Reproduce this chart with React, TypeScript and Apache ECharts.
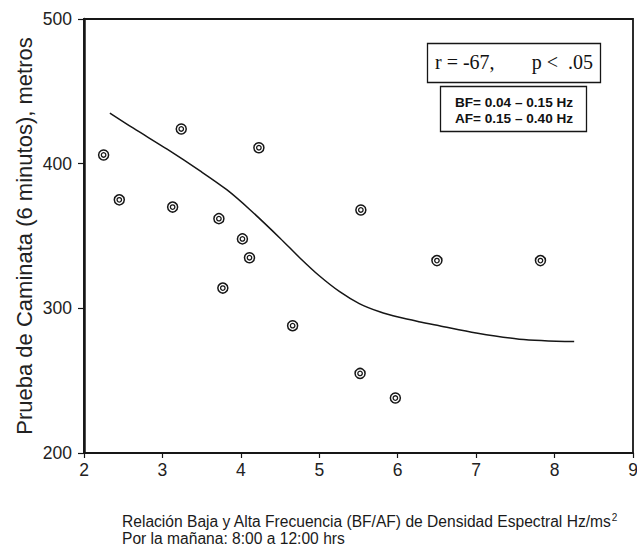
import React, { useEffect, useRef } from "react";
import * as echarts from "echarts";

const xTicks = [2, 3, 4, 5, 6, 7, 8, 9];
const yTicks = [200, 300, 400, 500];

const pointX = [2.25, 2.45, 3.24, 3.13, 3.72, 3.77, 4.02, 4.11, 4.23, 4.66, 5.53, 5.52, 5.97, 6.5, 7.82];
const pointY = [406, 375, 424, 370, 362, 314, 348, 335, 411, 288, 368, 255, 238, 333, 333];

const curveX = [2.33, 2.63, 3.06, 3.48, 3.82, 4.12, 4.5, 4.75, 5.0, 5.26, 5.51, 5.77, 6.02, 6.27, 6.53, 7.0, 7.55, 8.25];
const curveY = [435, 424.5, 410, 395, 382, 368, 348.5, 335, 322.5, 311.5, 303.3, 297.6, 293.8, 290.8, 288, 283, 278.7, 277];

const yAxisTitle = "Prueba de Caminata (6 minutos), metros";
const xTitleLine1 = "Relación Baja y Alta Frecuencia (BF/AF) de Densidad Espectral Hz/ms";
const xTitleSup = "2";
const xTitleLine2 = "Por la mañana: 8:00 a 12:00 hrs";
const statLeft = "r = -67,";
const statRight = "p <  .05";
const bandLine1 = "BF= 0.04 – 0.15 Hz";
const bandLine2 = "AF= 0.15 – 0.40 Hz";

export default function App() {
  const ref = useRef<HTMLDivElement>(null);

  useEffect(() => {
    if (!ref.current) return;
    const chart = echarts.init(ref.current, null, { renderer: "svg" });
    const points = pointX.map((x, i) => [x, pointY[i]]);
    const curve = curveX.map((x, i) => [x, curveY[i]]);
    const ink = "#161616";
    const sans = "'Liberation Sans', Arial, sans-serif";
    chart.setOption({
      animation: false,
      backgroundColor: "#ffffff",
      grid: {
        left: 84,
        right: 4,
        top: 19,
        bottom: 95,
        show: true,
        borderColor: ink,
        borderWidth: 1.8,
        containLabel: false,
        outerBoundsMode: "none",
      },
      xAxis: {
        type: "value",
        min: xTicks[0],
        max: xTicks[xTicks.length - 1],
        interval: 1,
        axisLine: { show: true, lineStyle: { color: ink, width: 2 } },
        axisTick: { show: true, length: 5, lineStyle: { color: ink, width: 1.2 } },
        axisLabel: {
          color: "#222",
          fontSize: 17.5,
          fontFamily: sans,
          margin: 8,
          hideOverlap: false,
        },
        splitLine: { show: false },
      },
      yAxis: {
        type: "value",
        min: yTicks[0],
        max: yTicks[yTicks.length - 1],
        interval: 100,
        name: yAxisTitle,
        nameLocation: "middle",
        nameGap: 49,
        nameMoveOverlap: false,
        nameTextStyle: {
          color: "#222",
          fontSize: 22,
          fontFamily: sans,
        },
        axisLine: { show: true, lineStyle: { color: ink, width: 2.5 } },
        axisTick: { show: true, length: 6, lineStyle: { color: ink, width: 1.2 } },
        axisLabel: {
          color: "#222",
          fontSize: 17.5,
          fontFamily: sans,
          margin: 12,
        },
        splitLine: { show: false },
      },
      series: [
        {
          type: "line",
          data: curve,
          smooth: 0.3,
          showSymbol: false,
          lineStyle: { color: ink, width: 1.5 },
          z: 1,
        },
        {
          type: "scatter",
          data: points,
          symbol: "circle",
          symbolSize: 10,
          itemStyle: { color: "#fff", borderColor: ink, borderWidth: 1.5, opacity: 1 },
          z: 2,
        },
        {
          type: "scatter",
          data: points,
          symbol: "circle",
          symbolSize: 4.5,
          itemStyle: { color: "#fff", borderColor: ink, borderWidth: 1.3, opacity: 1 },
          z: 3,
        },
      ],
      graphic: [
        {
          type: "rect",
          shape: { x: 427.5, y: 43.5, width: 173, height: 39 },
          style: { fill: "#fff", stroke: ink, lineWidth: 1.3 },
          z: 10,
        },
        {
          type: "text",
          x: 435,
          y: 62,
          style: {
            text: statLeft,
            fill: "#111",
            font: "20px 'Liberation Serif', 'Times New Roman', serif",
            verticalAlign: "middle",
            align: "left",
          },
          z: 11,
        },
        {
          type: "text",
          x: 593,
          y: 62,
          style: {
            text: statRight,
            fill: "#111",
            font: "20px 'Liberation Serif', 'Times New Roman', serif",
            verticalAlign: "middle",
            align: "right",
          },
          z: 11,
        },
        {
          type: "rect",
          shape: { x: 440.5, y: 86.5, width: 146, height: 45 },
          style: { fill: "#fff", stroke: ink, lineWidth: 1.3 },
          z: 10,
        },
        {
          type: "text",
          x: 514,
          y: 102,
          style: {
            text: bandLine1,
            fill: "#111",
            font: "bold 13.6px 'Liberation Sans', Arial, sans-serif",
            verticalAlign: "middle",
            align: "center",
          },
          z: 11,
        },
        {
          type: "text",
          x: 514,
          y: 118.5,
          style: {
            text: bandLine2,
            fill: "#111",
            font: "bold 13.6px 'Liberation Sans', Arial, sans-serif",
            verticalAlign: "middle",
            align: "center",
          },
          z: 11,
        },
        {
          type: "text",
          x: 122,
          y: 521,
          style: {
            text: "{m|" + xTitleLine1 + "}{s|" + xTitleSup + "}",
            rich: {
              m: {
                fontSize: 15.6,
                fontFamily: sans,
                fill: "#1a1a1a",
                color: "#1a1a1a",
              },
              s: {
                fontSize: 10,
                fontFamily: sans,
                fill: "#1a1a1a",
                color: "#1a1a1a",
                verticalAlign: "top",
                padding: [0, 0, 7, 0],
              },
            },
            verticalAlign: "middle",
            align: "left",
          },
        },
        {
          type: "text",
          x: 122,
          y: 538,
          style: {
            text: xTitleLine2,
            fill: "#1a1a1a",
            font: "15.6px 'Liberation Sans', Arial, sans-serif",
            verticalAlign: "middle",
            align: "left",
          },
        },
      ],
    });
    return () => chart.dispose();
  }, []);

  return (
    <div
      ref={ref}
      style={{ position: "absolute", left: 0, top: 0, width: 637, height: 548 }}
    />
  );
}
